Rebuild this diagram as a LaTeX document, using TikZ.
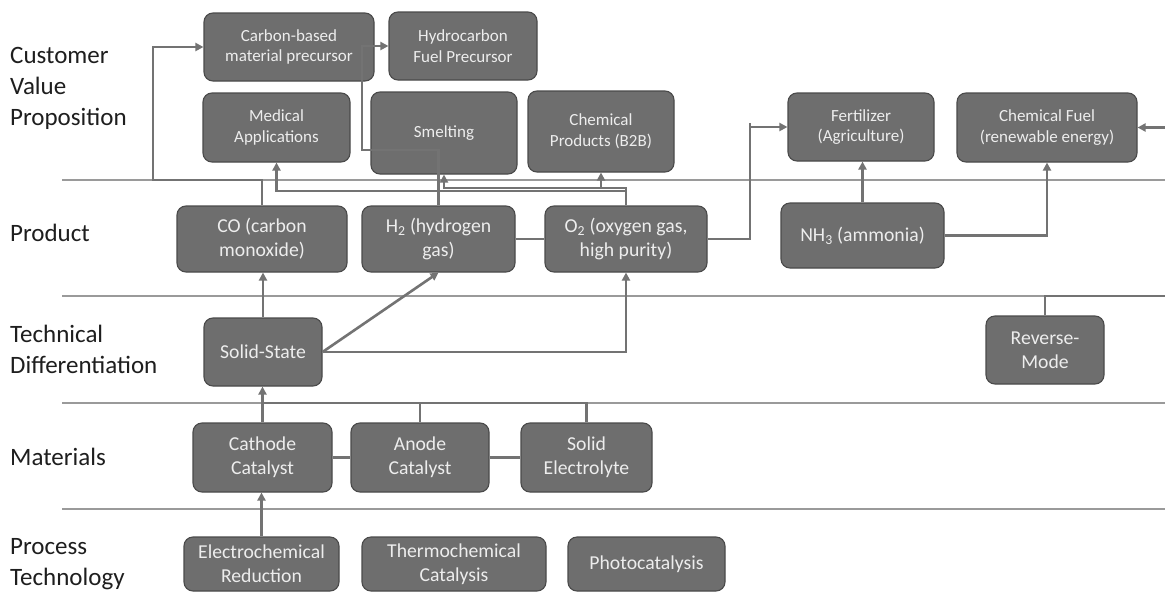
\documentclass[tikz,border=0pt]{standalone}
\usepackage{fontspec}
\setmainfont{Carlito}
\usetikzlibrary{arrows.meta}
\definecolor{boxfill}{HTML}{6E6E6E}
\definecolor{boxdraw}{HTML}{4A4A4A}
\definecolor{boxtext}{HTML}{EDEDED}
\definecolor{conncol}{HTML}{737373}
\definecolor{sepcol}{HTML}{9A9A9A}
\definecolor{labcol}{HTML}{1E1E1E}
\begin{document}
\begin{tikzpicture}[x=1pt,y=-1pt,
  box/.style={draw=boxdraw, line width=1.1pt, fill=boxfill, rounded corners=9pt, text=boxtext, align=center, inner sep=0pt, font=\fontsize{19.7}{24}\selectfont},
  topbox/.style={box, font=\fontsize{17}{20.7}\selectfont},
  conn/.style={draw=conncol, line width=2.6pt},
  arr/.style={conn, -{Triangle[length=8pt,width=8pt]}},
  sep/.style={draw=sepcol, line width=1.3pt},
  lab/.style={anchor=west, align=left, text=labcol, inner sep=0pt, font=\fontsize{25}{31}\selectfont}]
\useasboundingbox (0,0) rectangle (1165,592);
\fill[white] (0,0) rectangle (1165,592);
\clip (0,0) rectangle (1165,592);

% separators
\draw[sep] (62,180) -- (1165,180);
\draw[sep] (62,296) -- (1165,296);
\draw[sep] (62,403) -- (1165,403);
\draw[sep] (62,509) -- (1165,509);

% row labels
\node[lab] (lcvp) at (10,88) {Customer\\Value\\Proposition};
\node[lab] (lprod) at (10,233) {Product};
\node[lab] (ltech) at (10,349) {Technical\\Differentiation};
\node[lab] (lmat) at (10,457) {Materials};
\node[lab] (lproc) at (10,564) {Process\\Technology};

% customer value proposition
\node[topbox, minimum width=170pt, minimum height=68pt] (carbon) at (289,47) {Carbon-based\\material precursor};
\node[topbox, minimum width=148pt, minimum height=68pt] (hydro) at (463,46) {Hydrocarbon\\Fuel Precursor};
\node[topbox, minimum width=147pt, minimum height=69pt] (medical) at (276.5,127.5) {Medical\\Applications};
\node[topbox, minimum width=146pt, minimum height=82pt] (smelt) at (444,133) {Smelting};
\node[topbox, minimum width=146pt, minimum height=81pt] (chemprod) at (601,131.5) {Chemical\\Products (B2B)};
\node[topbox, minimum width=146pt, minimum height=68pt] (fert) at (861,127) {Fertilizer\\(Agriculture)};
\node[topbox, minimum width=180pt, minimum height=69pt] (fuel) at (1047,127.5) {Chemical Fuel\\(renewable energy)};

% product
\node[box, minimum width=170pt, minimum height=66pt] (co) at (262,239) {CO (carbon\\monoxide)};
\node[box, minimum width=153pt, minimum height=66pt] (h2) at (438.5,239) {H\textsubscript{2} (hydrogen\\gas)};
\node[box, minimum width=162pt, minimum height=66pt] (o2) at (626,239) {O\textsubscript{2} (oxygen gas,\\high purity)};
\node[box, minimum width=163pt, minimum height=65pt] (nh3) at (862.5,235.5) {NH\textsubscript{3} (ammonia)};

% technical differentiation
\node[box, minimum width=118pt, minimum height=68pt] (solid) at (263,352) {Solid-State};
\node[box, minimum width=118pt, minimum height=68pt] (reverse) at (1045,350) {Reverse-\\Mode};

% materials
\node[box, minimum width=139pt, minimum height=69pt] (cathode) at (262.5,457.5) {Cathode\\Catalyst};
\node[box, minimum width=138pt, minimum height=69pt] (anode) at (420,457.5) {Anode\\Catalyst};
\node[box, minimum width=131pt, minimum height=69pt] (solidel) at (586.5,457.5) {Solid\\Electrolyte};

% process technology
\node[box, minimum width=155pt, minimum height=54pt] (electro) at (261.5,564) {Electrochemical\\Reduction};
\node[box, minimum width=184pt, minimum height=54pt] (thermo) at (454,564) {Thermochemical\\Catalysis};
\node[box, minimum width=157pt, minimum height=54pt] (photo) at (646.5,564) {Photocatalysis};

% helper coordinates
\coordinate (yA) at (0,191);
\coordinate (yB) at (0,188);
\coordinate (yM) at (0,403);
\coordinate (cA) at (153,180);
\coordinate (cB) at (362,150);
\coordinate (cF) at (750,123);
\coordinate (cR) at (1180,296);

% connectors
\draw[arr] (co.north) |- (cA) |- (carbon.west);
\draw[arr] (h2.north) |- (cB) |- (hydro.west);
\draw[arr] (o2.north) -- (o2.north |- yA) -| (medical.south);
\draw[arr] (o2.north) -- (o2.north |- yB) -| (smelt.south);
\draw[arr] (o2.north |- yB) -| (chemprod.south);
\draw[arr] (o2.east) -| (cF) |- (fert.west);
\draw[arr] (nh3.north) -- (nh3.north |- fert.south);
\draw[arr] (nh3.east) -| (fuel.south);
\draw[arr] (reverse.north) |- (cR) |- (fuel.east);
\draw[arr] (solid.north) -- (solid.north |- co.south);
\draw[arr] (solid.east) -- (h2.south);
\draw[arr] (solid.east) -| (o2.south);
\draw[conn] (h2.east) -- (o2.west);
\draw[conn] (anode.north) -- (anode.north |- yM);
\draw[conn] (solidel.north) |- (cathode.north |- yM);
\draw[arr] (cathode.north) -- (cathode.north |- solid.south);
\draw[conn] (cathode.east) -- (anode.west);
\draw[conn] (anode.east) -- (solidel.west);
\draw[arr] (electro.north) -- (electro.north |- cathode.south);
\end{tikzpicture}
\end{document}
